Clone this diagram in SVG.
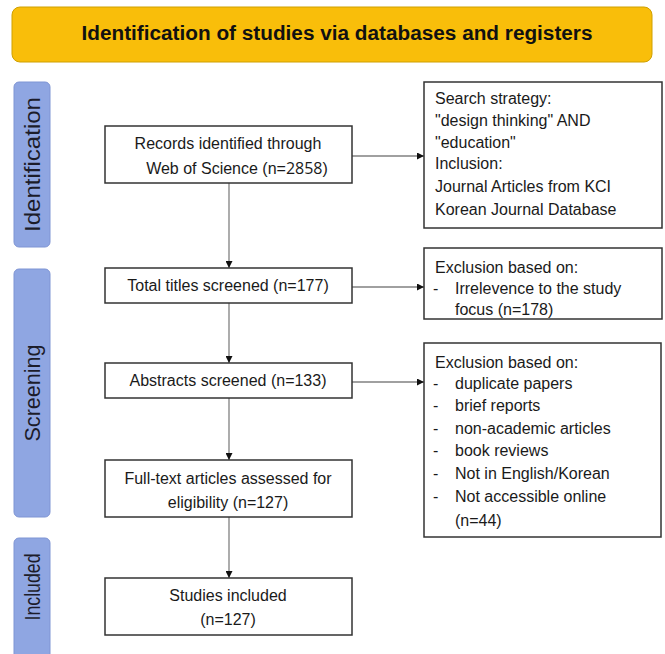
<svg xmlns="http://www.w3.org/2000/svg" width="665" height="654" viewBox="0 0 665 654">
<style>
.box{fill:#fff;stroke:#333;stroke-width:1.5}
.t{font-family:"Liberation Sans",Arial,sans-serif;font-size:16px;fill:#1a1a1a}
.n{font-family:"Open Sans","Liberation Sans",sans-serif}
.side{fill:#8FA6E2;stroke:#7F95D4;stroke-width:1}
.st{font-family:"Liberation Sans",Arial,sans-serif;font-size:22px;fill:#1c1c2a}
.c{stroke:#808080;stroke-width:1.3;fill:none;marker-end:url(#ah)}
</style>
<defs>
<marker id="ah" viewBox="0 0 10 10" refX="10" refY="5" markerWidth="7" markerHeight="7" markerUnits="userSpaceOnUse" orient="auto">
<path d="M0,0 L10,5 L0,10 z" fill="#111"/>
</marker>
</defs>
<rect width="665" height="654" fill="#fff"/>
<g id="header">
<rect x="12" y="7" width="640" height="55" rx="8" fill="#F9BE0A" stroke="#CFA000" stroke-width="1"/>
<text x="337" y="40" text-anchor="middle" font-family="'Liberation Sans',Arial,sans-serif" font-weight="bold" font-size="19.5" fill="#111" textLength="511" lengthAdjust="spacingAndGlyphs">Identification of studies via databases and registers</text>
</g>
<g id="stage-identification">
<rect class="side" x="14" y="82" width="36" height="165" rx="5"/>
<text class="st" transform="translate(39.5,164.5) rotate(-90)" text-anchor="middle" textLength="135" lengthAdjust="spacingAndGlyphs">Identification</text>
</g>
<g id="stage-screening">
<rect class="side" x="14" y="269" width="36" height="248" rx="5"/>
<text class="st" transform="translate(39.5,393) rotate(-90)" text-anchor="middle" textLength="97" lengthAdjust="spacingAndGlyphs">Screening</text>
</g>
<g id="stage-included">
<rect class="side" x="14" y="538" width="36" height="125" rx="5"/>
<text class="st" transform="translate(39.5,587) rotate(-90)" text-anchor="middle" textLength="67" lengthAdjust="spacingAndGlyphs">Included</text>
</g>
<g id="connectors">
<line class="c" x1="229" y1="183" x2="229" y2="268"/>
<line class="c" x1="229" y1="303" x2="229" y2="363"/>
<line class="c" x1="229" y1="398" x2="229" y2="460"/>
<line class="c" x1="229" y1="517" x2="229" y2="578"/>
<line class="c" x1="352" y1="156" x2="424" y2="156"/>
<line class="c" x1="352" y1="287" x2="424" y2="287"/>
<line class="c" x1="352" y1="382" x2="424" y2="382"/>
</g>
<g id="records">
<rect class="box" x="105" y="126" width="247" height="57"/>
<text class="t" x="228" y="149" text-anchor="middle">Records identified through</text>
<text class="t" x="237" y="174" text-anchor="middle">Web of Science (n=<tspan class="n">2858</tspan>)</text>
</g>
<g id="search">
<rect class="box" x="424" y="82" width="238" height="146"/>
<text class="t" x="435" y="104">Search strategy:</text>
<text class="t" x="435" y="126">"design thinking" AND</text>
<text class="t" x="435" y="148">"education"</text>
<text class="t" x="435" y="169">Inclusion:</text>
<text class="t" x="435" y="192">Journal Articles from KCI</text>
<text class="t" x="435" y="215">Korean Journal Database</text>
</g>
<g id="titles">
<rect class="box" x="105" y="268" width="247" height="35"/>
<text class="t" x="228" y="291" text-anchor="middle">Total titles screened (n=177)</text>
</g>
<g id="excl1">
<rect class="box" x="424" y="248" width="238" height="71"/>
<text class="t" x="435" y="273">Exclusion based on:</text>
<text class="t" x="433" y="294">-</text>
<text class="t" x="455" y="294">Irrelevence to the study</text>
<text class="t" x="455" y="315">focus (n=178)</text>
</g>
<g id="abstracts">
<rect class="box" x="105" y="363" width="247" height="35"/>
<text class="t" x="228" y="386" text-anchor="middle">Abstracts screened (n=133)</text>
</g>
<g id="excl2">
<rect class="box" x="424" y="343" width="237" height="194"/>
<text class="t" x="435" y="368">Exclusion based on:</text>
<text class="t" x="433" y="389">-</text><text class="t" x="455" y="389">duplicate papers</text>
<text class="t" x="433" y="411">-</text><text class="t" x="455" y="411">brief reports</text>
<text class="t" x="433" y="434">-</text><text class="t" x="455" y="434">non-academic articles</text>
<text class="t" x="433" y="456">-</text><text class="t" x="455" y="456">book reviews</text>
<text class="t" x="433" y="479">-</text><text class="t" x="455" y="479">Not in English/Korean</text>
<text class="t" x="433" y="502">-</text><text class="t" x="455" y="502">Not accessible online</text>
<text class="t" x="455" y="526">(n=44)</text>
</g>
<g id="fulltext">
<rect class="box" x="105" y="460" width="247" height="57"/>
<text class="t" x="228" y="484" text-anchor="middle">Full-text articles assessed for</text>
<text class="t" x="228" y="508" text-anchor="middle">eligibility (n=127)</text>
</g>
<g id="included">
<rect class="box" x="105" y="578" width="247" height="57"/>
<text class="t" x="228" y="601" text-anchor="middle">Studies included</text>
<text class="t" x="228" y="625" text-anchor="middle">(n=127)</text>
</g>
</svg>
